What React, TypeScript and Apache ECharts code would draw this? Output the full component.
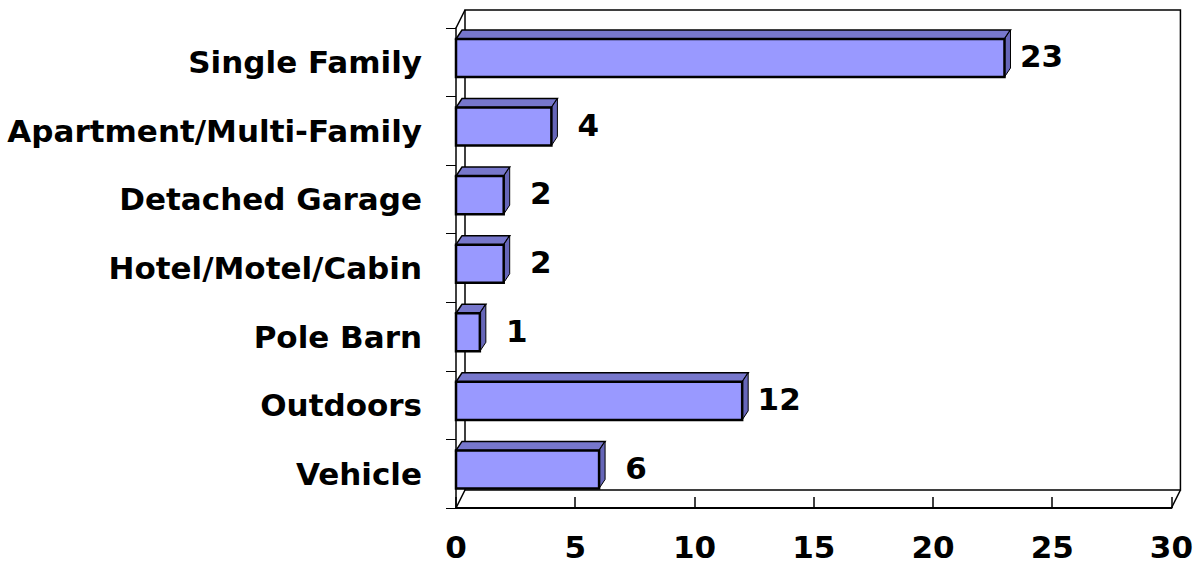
import React, { useEffect, useRef } from "react";
import * as echarts from "echarts";

const categories = [
  "Single Family",
  "Apartment/Multi-Family",
  "Detached Garage",
  "Hotel/Motel/Cabin",
  "Pole Barn",
  "Outdoors",
  "Vehicle",
];
const values = [23, 4, 2, 2, 1, 12, 6];
const xTicks = { min: 0, max: 30, interval: 5 };

const FONT = '"DejaVu Sans", "Liberation Sans", Arial, sans-serif';
const FRONT = "#9999FF";
const TOPC = "#7777CC";
const SIDE = "#6666B8";

export default function App() {
  const ref = useRef<HTMLDivElement>(null);
  useEffect(() => {
    document.body.style.margin = "0";
    const chart = echarts.init(ref.current!, null, { renderer: "svg" });
    const option: any = {
      animation: false,
      backgroundColor: "#ffffff",
      grid: { left: 456, right: 23, top: 28, bottom: 59, containLabel: false },
      xAxis: {
        type: "value",
        min: xTicks.min,
        max: xTicks.max,
        interval: xTicks.interval,
        splitLine: { show: false },
        axisLine: { show: true, lineStyle: { color: "#000", width: 2 } },
        axisTick: { show: true, inside: true, length: 11, lineStyle: { color: "#000", width: 1.5 } },
        axisLabel: {
          margin: 23,
          color: "#000",
          fontFamily: FONT,
          fontWeight: "bold",
          fontSize: 31,
        },
      },
      yAxis: {
        type: "category",
        inverse: true,
        data: categories,
        axisLine: { show: true, lineStyle: { color: "#000", width: 1.5 } },
        axisTick: { show: true, inside: false, length: 10, alignWithLabel: false, lineStyle: { color: "#000", width: 1 } },
        axisLabel: {
          margin: 34,
          color: "#000",
          fontFamily: FONT,
          fontWeight: "bold",
          fontSize: 31,
        },
      },
      series: [
        {
          type: "custom",
          name: "frame",
          z: 1,
          silent: true,
          clip: false,
          encode: { x: 0, y: 1 },
          data: [[0, 0]],
          renderItem: (params: any) => {
            const cs = params.coordSys;
            const x = cs.x, y = cs.y, w = cs.width, h = cs.height;
            const DX = 9, DY = 18;
            const ls = { stroke: "#000", lineWidth: 1.5, fill: null };
            return {
              type: "group",
              children: [
                { type: "rect", shape: { x: x + DX, y: y - DY, width: w, height: h }, style: { ...ls, fill: "none" } },
                { type: "line", shape: { x1: x, y1: y, x2: x + DX, y2: y - DY }, style: ls },
                { type: "line", shape: { x1: x, y1: y + h, x2: x + DX, y2: y + h - DY }, style: ls },
                { type: "line", shape: { x1: x + w, y1: y + h, x2: x + w + DX, y2: y + h - DY }, style: ls },
              ],
            };
          },
        },
        {
          type: "custom",
          name: "bars",
          z: 3,
          clip: false,
          encode: { x: 0, y: 1 },
          data: values.map((v, i) => [v, i]),
          renderItem: (params: any, api: any) => {
            const v = api.value(0);
            const c = api.value(1);
            const s = api.coord([0, c]);
            const e = api.coord([v, c]);
            const band = api.size([0, 1])[1];
            const bTop = s[1] - band / 2;
            const top = bTop + band * 0.16;
            const bottom = bTop + band * 0.715;
            const x0 = s[0], x1 = e[0];
            const dx = 6, dy = 9;
            return {
              type: "group",
              children: [
                {
                  type: "polygon",
                  shape: { points: [[x0, top], [x0 + dx, top - dy], [x1 + dx, top - dy], [x1, top]] },
                  style: { fill: TOPC, stroke: "#000", lineWidth: 1.5 },
                },
                {
                  type: "polygon",
                  shape: { points: [[x1, top], [x1 + dx, top - dy], [x1 + dx, bottom - dy], [x1, bottom]] },
                  style: { fill: SIDE, stroke: "#000", lineWidth: 1 },
                },
                {
                  type: "rect",
                  shape: { x: x0, y: top, width: x1 - x0, height: bottom - top },
                  style: { fill: FRONT, stroke: "#000", lineWidth: 2.5 },
                },
                {
                  type: "text",
                  style: {
                    text: String(v),
                    x: x1 + 37,
                    y: s[1] - 6,
                    fill: "#000",
                    font: `bold 31px ${FONT}`,
                    align: "center",
                    verticalAlign: "middle",
                  },
                },
              ],
            };
          },
        },
      ],
    };
    chart.setOption(option);
    return () => chart.dispose();
  }, []);
  return <div ref={ref} style={{ width: 1196, height: 567 }} />;
}
